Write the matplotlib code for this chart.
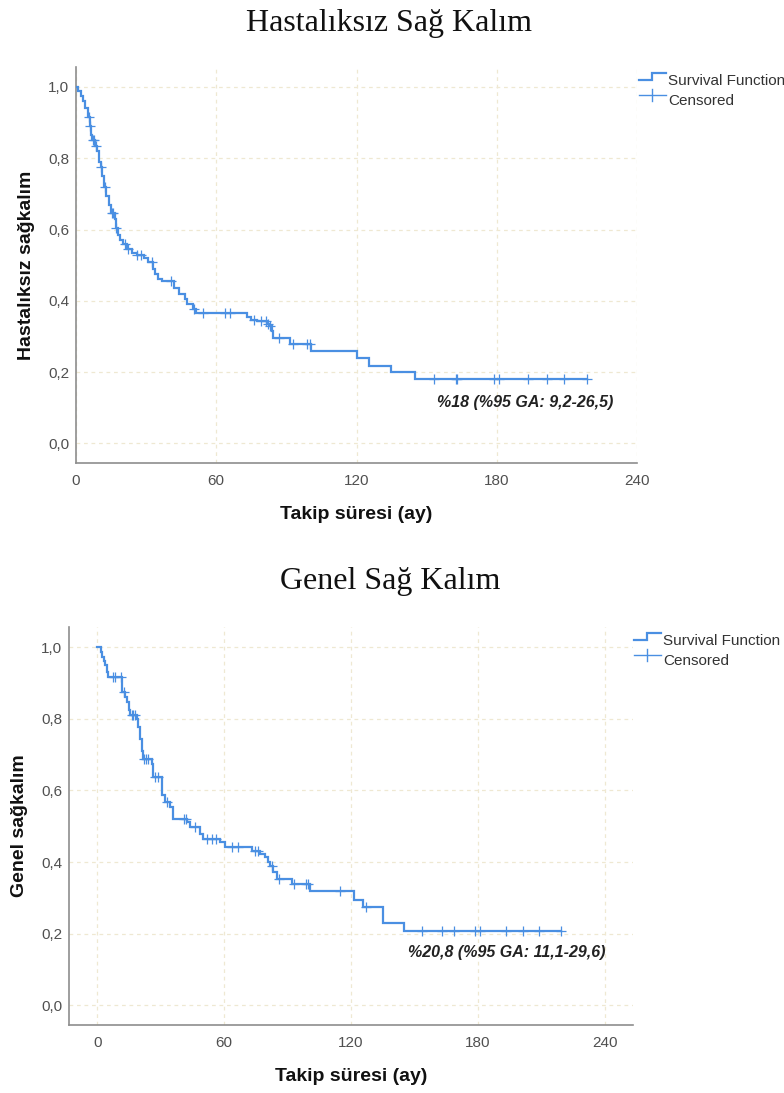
import numpy as np
import matplotlib
matplotlib.use("Agg")
import matplotlib.pyplot as plt
from matplotlib.lines import Line2D
from matplotlib.legend_handler import HandlerBase
from matplotlib.ticker import FuncFormatter

# ---------------- data ----------------
# Disease-free survival: event times (months) and survival after each drop
dfs_event_t = [0, 1, 2, 3, 4, 5, 6, 6.5, 7, 8, 9, 10, 10.5, 11, 12, 13, 14, 15, 16.5,
               17, 18, 19, 20, 22, 24, 26, 29, 31, 33, 34, 35, 37, 42, 44, 46.5, 47.5,
               50, 51.5, 73, 75, 77.3, 81.5, 82.5, 83.7, 84.4, 91.5, 100.5, 120, 125.5,
               134.7, 145]
dfs_event_s = [1.0, 0.99, 0.975, 0.96, 0.94, 0.915, 0.89, 0.865, 0.85, 0.835, 0.82, 0.79,
               0.775, 0.75, 0.72, 0.695, 0.67, 0.645, 0.63, 0.605, 0.585, 0.57, 0.56, 0.545,
               0.535, 0.528, 0.52, 0.51, 0.49, 0.475, 0.46, 0.455, 0.435, 0.42, 0.405, 0.39,
               0.378, 0.365, 0.356, 0.346, 0.342, 0.335, 0.328, 0.315, 0.295, 0.278, 0.259,
               0.239, 0.218, 0.199, 0.18]
dfs_censor_t = [5.5, 6.2, 7.3, 7.9, 8.5, 10.9, 12.4, 15.2, 16.0, 17.0, 21.0, 22.4, 26.0,
                28.0, 32.5, 40.6, 50.3, 54.3, 63.6, 65.7, 76.1, 79.0, 81.3, 82.3, 83.2,
                87.0, 93.0, 99.0, 100.0, 153.2, 162.5, 163.2, 178.8, 181.1, 193.2, 201.6,
                208.9, 218.7]

# Overall survival
os_event_t = [0, 1.5, 2.1, 3, 3.6, 4.5, 5.2, 11.5, 13, 13.9, 15, 15.5, 18.6, 19.4, 20.2,
              21, 21.8, 25.7, 26.5, 30.5, 32, 34.4, 36, 42.3, 43.9, 48.6, 50.2, 58, 60.4,
              73, 77, 79.3, 80.9, 81.7, 83.3, 84.9, 92, 100.6, 121.4, 125.5, 135, 135.3,
              145.1]
os_event_s = [1.0, 0.985, 0.972, 0.96, 0.949, 0.93, 0.916, 0.874, 0.86, 0.846, 0.825,
              0.809, 0.80, 0.777, 0.744, 0.711, 0.688, 0.674, 0.637, 0.586, 0.567, 0.553,
              0.521, 0.511, 0.499, 0.479, 0.465, 0.455, 0.441, 0.432, 0.423, 0.413, 0.40,
              0.39, 0.372, 0.353, 0.339, 0.319, 0.295, 0.274, 0.25, 0.229, 0.208]
os_censor_t = [7.6, 8.4, 11.2, 12.5, 16.3, 17.1, 17.9, 22.3, 23.1, 23.9, 27.4, 28.9, 33.0,
               40.8, 41.7, 46.1, 52.0, 54.0, 56.0, 63.7, 66.5, 74.6, 76.2, 82.5, 85.8, 93.0,
               98.5, 99.5, 114.7, 127.3, 153.4, 162.9, 168.7, 178.7, 181.1, 193.3, 201.5,
               209.1, 219.2]

x_ticks = [0, 60, 120, 180, 240]
y_ticks = [0.0, 0.2, 0.4, 0.6, 0.8, 1.0]

titles = ["Hastalıksız Sağ Kalım", "Genel Sağ Kalım"]
y_labels = ["Hastalıksız sağkalım", "Genel sağkalım"]
x_label = "Takip süresi (ay)"
annotations = ["%18 (%95 GA: 9,2-26,5)", "%20,8 (%95 GA: 11,1-29,6)"]
legend_labels = ["Survival Function", "Censored"]

# ---------------- style ----------------
BLUE = "#4A8FE2"
GRID = "#EFE8D2"
SPINE = "#8E8E8E"
TICK = "#505050"
SANS = ["Liberation Sans", "DejaVu Sans"]
SERIF = ["Liberation Serif", "DejaVu Serif"]

plt.rcParams["font.family"] = SANS


class StepHandler(HandlerBase):
    def create_artists(self, legend, orig_handle, xdescent, ydescent, width, height,
                       fontsize, trans):
        x0, y0 = -xdescent, -ydescent
        xm = x0 + width * 0.47
        xs = [x0, xm, xm, x0 + width]
        ys = [y0 + height * 0.45, y0 + height * 0.45, y0 + height * 1.15, y0 + height * 1.15]
        ln = Line2D(xs, ys, color=BLUE, lw=1.6, solid_joinstyle="miter")
        ln.set_transform(trans)
        return [ln]


class CensorHandler(HandlerBase):
    def create_artists(self, legend, orig_handle, xdescent, ydescent, width, height,
                       fontsize, trans):
        x0, y0 = -xdescent, -ydescent
        xm = x0 + width * 0.47
        yc = y0 + height * 0.95
        h = Line2D([x0, x0 + width], [yc, yc], color=BLUE, lw=1.0)
        v = Line2D([xm, xm], [yc - height * 0.6, yc + height * 0.55], color=BLUE, lw=1.0)
        h.set_transform(trans)
        v.set_transform(trans)
        return [h, v]


def surv_at(ev_t, ev_s, t):
    ev_t = np.asarray(ev_t)
    ev_s = np.asarray(ev_s)
    idx = np.searchsorted(ev_t, np.asarray(t), side="right") - 1
    return ev_s[idx]


def draw(ax, ev_t, ev_s, cens_t, xlim, ylabel, annot, annot_xy):
    ev_t = np.asarray(ev_t, float)
    ev_s = np.asarray(ev_s, float)
    cens_t = np.asarray(cens_t, float)
    t_end = max(ev_t.max(), cens_t.max())
    ax.step(np.r_[ev_t, t_end], np.r_[ev_s, ev_s[-1]], where="post", color=BLUE,
            lw=1.6, zorder=3, solid_joinstyle="miter")
    ax.plot(cens_t, surv_at(ev_t, ev_s, cens_t), linestyle="none", marker="+",
            markersize=7, markeredgewidth=0.9, color=BLUE, zorder=4)

    ax.set_xlim(*xlim)
    ax.set_ylim(-0.055, 1.056)
    ax.set_xticks(x_ticks)
    ax.set_yticks(y_ticks)
    ax.yaxis.set_major_formatter(FuncFormatter(lambda v, p: f"{v:.1f}".replace(".", ",")))
    ax.grid(True, color=GRID, linestyle=(0, (3, 3)), linewidth=0.9, zorder=0)
    ax.set_axisbelow(True)
    for s in ["top", "right"]:
        ax.spines[s].set_visible(False)
    for s in ["left", "bottom"]:
        ax.spines[s].set_color(SPINE)
        ax.spines[s].set_linewidth(1.2)
    ax.tick_params(axis="both", length=0, labelsize=11, labelcolor=TICK)
    ax.tick_params(axis="x", pad=8)
    ax.tick_params(axis="y", pad=5)

    ax.set_xlabel(x_label, fontsize=14, fontweight="bold", color="#111111")
    ax.xaxis.set_label_coords(0.5, -0.108)
    ax.set_ylabel(ylabel, fontsize=14, fontweight="bold", color="#111111")
    ax.yaxis.set_label_coords(-0.073, 0.5)

    ax.text(annot_xy[0], annot_xy[1], annot, fontsize=11.5, fontweight="bold",
            fontstyle="italic", color="#222222", ha="left", va="center")


fig = plt.figure(figsize=(7.84, 10.93), dpi=100)
W, H = 784, 1093

ax1 = fig.add_axes([76 / W, 1 - 463 / H, 561 / W, 396 / H])
ax2 = fig.add_axes([69 / W, 1 - 1025 / H, 563.7 / W, 398 / H])

draw(ax1, dfs_event_t, dfs_event_s, dfs_censor_t, (0, 240), y_labels[0], annotations[0],
     (154.4, 0.114))
draw(ax2, os_event_t, os_event_s, os_censor_t, (-13.4, 253.2), y_labels[1], annotations[1],
     (147.0, 0.146))

fig.text(389 / W, 1 - 31 / H, titles[0], fontsize=23, family=SERIF, ha="center",
         va="baseline", color="#111111")
fig.text(390 / W, 1 - 589 / H, titles[1], fontsize=23, family=SERIF, ha="center",
         va="baseline", color="#111111")

step_h = Line2D([], [], color=BLUE)
cens_h = Line2D([], [], color=BLUE, marker="+")
for anchor in [(639 / W, 1 - 74 / H), (634 / W, 1 - 634 / H)]:
    fig.legend([step_h, cens_h], legend_labels, loc="upper left", bbox_to_anchor=anchor,
               bbox_transform=fig.transFigure, frameon=False, fontsize=11,
               handlelength=1.75, handleheight=0.7, handletextpad=0.15, borderpad=0,
               borderaxespad=0, labelspacing=0.4, labelcolor="#333333",
               handler_map={step_h: StepHandler(), cens_h: CensorHandler()})

fig.savefig("out.png", dpi=100)
